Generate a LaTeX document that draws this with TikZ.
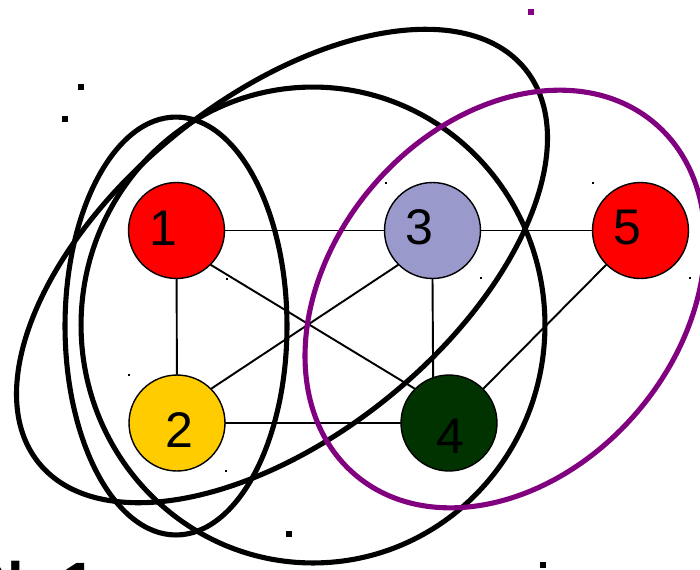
\documentclass[tikz,border=0pt]{standalone}
\usepackage{fontspec}
\setmainfont{Liberation Sans}
\usepackage{tikz}
\usetikzlibrary{calc, positioning}

\definecolor{vrot}{RGB}{255,0,0}
\definecolor{vlila}{RGB}{153,153,204}
\definecolor{vgelb}{RGB}{255,204,0}
\definecolor{vgruen}{RGB}{0,51,0}
\definecolor{vviolett}{RGB}{128,0,128}

\begin{document}
\begin{tikzpicture}[x=0.02cm, y=-0.02cm, line cap=round, line join=round,
	vertex/.style={circle, draw, line width=0.8pt, minimum size=1.92cm, inner sep=0pt},
	ziffer/.style={font=\fontsize{28.5}{28.5}\selectfont},
	kante/.style={line width=1.1pt},
	huelle/.style={line width=2.9pt}]

\useasboundingbox (0,0) rectangle (700,569);

% Knoten
\node[vertex, fill=vrot, label={[ziffer, xshift=-0.26cm, yshift=0.04cm]center:1}] (n1) at (176.5,230.5) {};
\node[vertex, fill=vgelb, label={[ziffer, xshift=0.04cm, yshift=-0.15cm]center:2}] (n2) at (177,423) {};
\node[vertex, fill=vlila, label={[ziffer, xshift=-0.26cm, yshift=0.06cm]center:3}] (n3) at (432.5,230.5) {};
\node[vertex, fill=vgruen, label={[ziffer, xshift=0.02cm, yshift=-0.26cm]center:4}] (n4) at (449,423) {};
\node[vertex, fill=vrot, label={[ziffer, xshift=-0.27cm, yshift=0.06cm]center:5}] (n5) at (640.5,230.5) {};

% Kanten
\draw[kante] (n1) -- (n3);
\draw[kante] (n3) -- (n5);
\draw[kante] (n1) -- (n2);
\draw[kante] (n2) -- (n4);
\draw[kante] (n3.south) -- (n4.109.5);
\draw[kante] (n1.south east) -- (n4.north west);
\draw[kante] (n2.north east) -- (n3.south west);
\draw[kante] (n5.south west) -- (n4.north east);

% Huellen
\draw[huelle] (176,326) ellipse [x radius=2.22cm, y radius=4.18cm];
\draw[huelle] (313,325) ellipse [x radius=4.64cm, y radius=4.76cm];
\begin{scope}[shift={(282,266)}, rotate=39]
	\draw[huelle] (0,0) ellipse [x radius=6.26cm, y radius=3.38cm];
\end{scope}
\begin{scope}[shift={(505,299)}, rotate=49.5]
	\draw[huelle, vviolett] (0,0) ellipse [x radius=4.62cm, y radius=3.48cm];
\end{scope}

% Punkte
\foreach \p in {(81,87),(65,119),(289,534),(543,565)}
	\fill \p ++(-2.8,-2.8) rectangle ++(5.6,5.6);
\fill[vviolett] (531,12) ++(-2.8,-2.8) rectangle ++(5.6,5.6);
\foreach \p in {(227,279),(386,183),(481,278),(129,375),(226,471),(593,183),(690,278),(497,469)}
	\fill \p ++(-1.2,-1.2) rectangle ++(2.4,2.4);

\node[anchor=base west, font=\bfseries\fontsize{34}{34}\selectfont, inner sep=0pt] (titel) at (-36,604) {Bl. 1};

\end{tikzpicture}
\end{document}
